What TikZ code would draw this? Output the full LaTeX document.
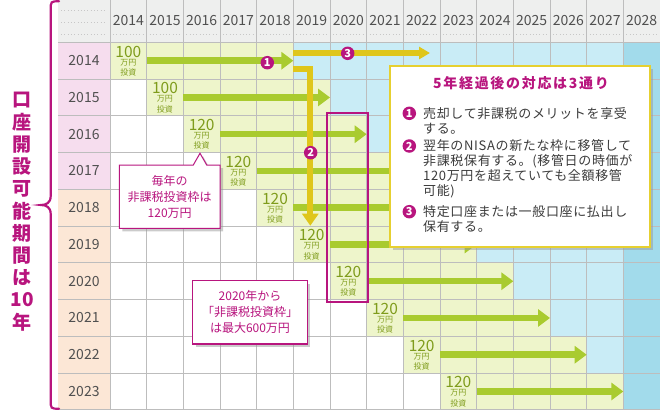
\documentclass[tikz,border=0pt]{standalone}
\usepackage{fontspec}
\setmainfont{Noto Sans CJK JP}
\usetikzlibrary{positioning, arrows.meta, shadows}
\definecolor{mag}{HTML}{B8157E}
\definecolor{nisa}{HTML}{EEF5CB}
\definecolor{arrgreen}{HTML}{A9CB2F}
\definecolor{yel}{HTML}{DFC61B}
\definecolor{lblue}{HTML}{C9ECF6}
\definecolor{dblue}{HTML}{A2DBEB}
\definecolor{pinkrow}{HTML}{F6DDEE}
\definecolor{peachrow}{HTML}{FCE7D6}
\definecolor{hdr}{HTML}{EEEFEE}
\definecolor{gridc}{HTML}{BDBDBD}
\definecolor{olive}{HTML}{7F9C1C}
\definecolor{txtgray}{HTML}{3C3C3C}
\definecolor{boxyel}{HTML}{E6D030}

\begin{document}
\begin{tikzpicture}[
    x=1pt, y=-1pt,
    yeartxt/.style={font=\fontsize{14}{14}\selectfont, text=txtgray!90, inner sep=0pt},
    amt/.style={font=\fontsize{15.5}{15.5}\selectfont, text=olive, inner sep=0pt},
    amtunit/.style={font=\fontsize{8}{8}\selectfont, text=olive, inner sep=0pt},
    gridline/.style={draw=gridc, line width=1pt},
    hdrdot/.style={draw=black!22, line width=0.7pt, dash pattern=on 0.7pt off 2.6pt},
    garr/.style={draw=arrgreen, line width=6.5pt, -{Triangle[length=12pt, width=17pt]}},
    yarr/.style={draw=yel, line width=6pt, -{Triangle[length=12pt, width=16pt]}},
    numc/.style={circle, fill=mag, text=white, inner sep=0pt, minimum size=13.5pt, font=\fontsize{11}{11}\selectfont\bfseries},
    vchar/.style={text=mag, inner sep=0pt, font=\fontsize{19}{19}\selectfont\bfseries},
    brace/.style={draw=mag, line width=2.2pt, line cap=round},
    callbox/.style={draw=mag, line width=1pt, fill=white, drop shadow={shadow xshift=3pt, shadow yshift=-3pt, fill=black!40}},
    calltxt/.style={align=center, text=mag, font=\fontsize{12}{16}\selectfont, inner sep=0pt},
    bigbox/.style={draw=boxyel, line width=2pt, fill=white, drop shadow={shadow xshift=3pt, shadow yshift=-3pt, fill=black!40}},
    titletxt/.style={text=mag, inner sep=0pt, font=\fontsize{14}{14}\selectfont\bfseries\addfontfeature{LetterSpace=12}},
    itemtxt/.style={align=left, anchor=west, text=txtgray, inner sep=0pt, font=\fontsize{13}{15}\selectfont\addfontfeature{LetterSpace=5}}
]
    \useasboundingbox (0,0) rectangle (660,410);
    \fill[white] (0,0) rectangle (660,410);

    \fill[hdr] (58,0) rectangle (660,42.3);
    \foreach \r in {0,...,9} {
        \fill[nisa] ({110+\r*36.667},{42.3+\r*36.75}) rectangle ++(183.33,36.75);
        \fill[lblue] ({110+(\r+5)*36.667},{42.3+\r*36.75}) rectangle (623.33,{42.3+(\r+1)*36.75});
    }
    \fill[dblue] (623.33,42.3) rectangle (660,410);
    \foreach \r in {0,...,3} \fill[pinkrow] (58,{42.3+\r*36.75}) rectangle ++(52,36.75);
    \foreach \r in {4,...,9} \fill[peachrow] (58,{42.3+\r*36.75}) rectangle ++(52,36.75);

    \foreach \d in {10,22,34} \draw[hdrdot] (61,\d) -- (107,\d);
    \foreach \j in {0,...,14} \draw[hdrdot] ({113+\j*36.667},34) -- ({143.7+\j*36.667},34);
    \foreach \j in {0,...,14} \draw[gridline] ({110+\j*36.667},0) -- ({110+\j*36.667},410);
    \foreach \i in {0,...,10} \draw[gridline] (58,{42.3+\i*36.75}) -- (660,{42.3+\i*36.75});

    \foreach \yr [count=\j from 0] in {2014,...,2028}
        \node[yeartxt] (h\yr) at ({128.33+\j*36.667},21) {\yr};
    \foreach \yr [count=\r from 0] in {2014,...,2023}
        \node[yeartxt] (r\yr) at (84,{60.7+\r*36.75}) {\yr};

    \foreach \r in {0,...,9} {
        \pgfmathtruncatemacro\amount{\r<2 ? 100 : 120}
        \node[amt] (a\r) at ({128.33+\r*36.667},{51.7+\r*36.75}) {\amount};
        \node[amtunit] (u\r) at ({128.33+\r*36.667},{62.3+\r*36.75}) {万円};
        \node[amtunit] (t\r) at ({128.33+\r*36.667},{72.3+\r*36.75}) {投資};
    }

    \foreach \r in {0,...,9} {
        \coordinate (gs\r) at ({146.67+\r*36.667},{60.7+\r*36.75});
        \coordinate (ge\r) at ({293.33+\r*36.667},{60.7+\r*36.75});
        \draw[garr] (gs\r) -- (ge\r);
    }

    \coordinate (y3s) at (293.33,53);
    \coordinate (y3e) at (430,53);
    \draw[yarr, -{Triangle[length=11pt, width=12pt]}] (y3s) -- (y3e);
    \coordinate (y2s) at (293.33,69);
    \coordinate (y2c) at (310.3,69);
    \coordinate (y2e) at (310.3,225.7);
    \draw[yarr] (y2s) -- (y2c) -- (y2e);

    \draw[mag, line width=2pt] (326.7,113.3) rectangle (368.3,301.7);

    \node[numc] (m1) at (267.3,62.7) {1};
    \node[numc] (m3) at (347.7,53.3) {3};
    \node[numc] (m2) at (310.7,152.7) {2};

    \draw[brace] (59,1.3) .. controls (50.7,1.3) .. (50.7,10) -- (50.7,196)
        .. controls (50.7,203) and (46,205) .. (41,205)
        .. controls (46,205) and (50.7,207) .. (50.7,214) -- (50.7,400)
        .. controls (50.7,408.7) .. (59,408.7);
    \foreach \ch [count=\k] in {口,座,開,設,可,能,期,間,は,10,年}
        \node[vchar] (v\k) at (22,{100+(\k-1)*22.2}) {\ch};

    \draw[callbox] (119.3,165) -- (193.3,165) -- (200,153.3) -- (206.7,165) -- (220,165)
        -- (220,228.3) -- (119.3,228.3) -- cycle;
    \node[calltxt] (note1) at (169.7,197) {毎年の\\非課税投資枠は\\120万円};

    \node[callbox, calltxt, line width=1.5pt, minimum width=114.6pt, minimum height=63.3pt] (note2)
        at (250,312.3) {2020年から\\「非課税投資枠」\\は最大600万円};

    \node[bigbox, minimum width=260pt, minimum height=180.7pt] (plan) at (520,156.3) {};
    \node[titletxt] (ttl) at (521,83.3) {5年経過後の対応は3通り};
    \node[numc] (c1) at (409.3,113.3) {1};
    \node[numc] (c2) at (409.3,146) {2};
    \node[numc] (c3) at (409.3,211.7) {3};
    \node[itemtxt] (i1) at (423,120.5) {売却して非課税のメリットを享受\\する。};
    \node[itemtxt] (i2) at (423,168.3) {翌年のNISAの新たな枠に移管して\\非課税保有する。(移管日の時価が\\120万円を超えていても全額移管\\可能)};
    \node[itemtxt] (i3) at (423,219.2) {特定口座または一般口座に払出し\\保有する。};
\end{tikzpicture}
\end{document}
